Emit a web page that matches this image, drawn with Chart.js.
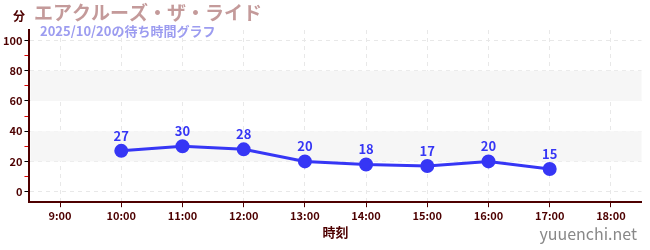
<!DOCTYPE html>
<html>
<head>
<meta charset="utf-8">
<script src="https://cdn.jsdelivr.net/npm/chart.js@4"></script>
<style>
  html, body { margin: 0; padding: 0; background: #fff; }
  #wrap { position: relative; width: 650px; height: 250px; }
</style>
</head>
<body>
<div id="wrap"><canvas id="grafico"></canvas></div>
<script>
// datos
const horas = ['9:00', '10:00', '11:00', '12:00', '13:00', '14:00', '15:00', '16:00', '17:00', '18:00'];
const esperas = [null, 27, 30, 28, 20, 18, 17, 20, 15, null];
const bandas = [[20, 40], [60, 80]];

const titulo = 'エアクルーズ・ザ・ライド';
const subtitulo = '2025/10/20の待ち時間グラフ';
const fuente = '"Noto Sans CJK JP", "Noto Sans", sans-serif';
const azul = '#3636f5';
const marron = '#4d0000';

// fondo en bandas + textos
const decoracion = {
    id: 'decoracion',
    beforeDatasetsDraw(chart) {
        const { ctx, chartArea, scales } = chart;
        ctx.save();
        ctx.fillStyle = '#f6f6f6';
        bandas.forEach(b => {
            const y1 = scales.y.getPixelForValue(b[1]);
            const y0 = scales.y.getPixelForValue(b[0]);
            ctx.fillRect(chartArea.left + 1, y1, chartArea.right - chartArea.left - 1, y0 - y1);
        });
        ctx.restore();
    },
    afterDatasetsDraw(chart) {
        const { ctx } = chart;
        const meta = chart.getDatasetMeta(0);
        ctx.save();
        ctx.fillStyle = azul;
        ctx.font = 'bold 13px ' + fuente;
        ctx.textAlign = 'center';
        ctx.textBaseline = 'alphabetic';
        meta.data.forEach((p, i) => {
            if (esperas[i] == null) return;
            ctx.fillText(String(esperas[i]), p.x, p.y - 10);
        });
        ctx.restore();
    },
    afterDraw(chart) {
        const { ctx } = chart;
        ctx.save();
        ctx.textBaseline = 'middle';
        ctx.textAlign = 'left';
        ctx.fillStyle = marron;
        ctx.font = 'bold 12px ' + fuente;
        ctx.fillText('分', 13, 16);
        ctx.fillStyle = '#c49a9a';
        ctx.font = 'bold 19px ' + fuente;
        ctx.fillText(titulo, 34, 13);
        ctx.fillStyle = '#9c9cf0';
        ctx.font = 'bold 13px ' + fuente;
        ctx.fillText(subtitulo, 40, 31);
        ctx.fillStyle = '#888';
        ctx.font = '16px ' + fuente;
        ctx.textAlign = 'right';
        ctx.fillText('yuuenchi.net', 637, 234);
        ctx.restore();
    }
};

new Chart(document.getElementById('grafico'), {
    type: 'line',
    data: {
        labels: horas,
        datasets: [{
            data: esperas,
            borderColor: azul,
            backgroundColor: azul,
            borderWidth: 3,
            pointRadius: 5.5,
            pointHoverRadius: 5.5,
            tension: 0,
            spanGaps: false
        }]
    },
    options: {
        responsive: true,
        maintainAspectRatio: false,
        animation: false,
        layout: { padding: { top: 30, right: 6, left: 1, bottom: 10 } },
        plugins: {
            legend: { display: false },
            tooltip: { enabled: false }
        },
        scales: {
            x: {
                offset: true,
                border: { display: true, color: marron, width: 2, dash: [4, 4] },
                grid: {
                    display: true,
                    color: '#e8e8e8',
                    tickColor: marron,
                    tickLength: 5,
                    offset: false
                },
                ticks: {
                    color: marron,
                    font: { family: fuente, size: 11, weight: 'bold' },
                    padding: 2,
                    maxRotation: 0
                },
                title: {
                    display: true,
                    text: '時刻',
                    color: marron,
                    font: { family: fuente, size: 13, weight: 'bold' },
                    padding: { top: 0, bottom: 0 }
                }
            },
            y: {
                min: -7,
                max: 107,
                border: { display: true, color: marron, width: 2, dash: [4, 4] },
                grid: {
                    color: ctx => (ctx.tick && ctx.tick.value % 20 === 0) ? '#e8e8e8' : 'rgba(0,0,0,0)',
                    tickColor: ctx => (ctx.tick && ctx.tick.value % 20 === 0) ? '#000' : '#e00000',
                    tickLength: 5
                },
                ticks: {
                    stepSize: 10,
                    includeBounds: false,
                    color: marron,
                    font: { family: fuente, size: 11, weight: 'bold' },
                    padding: 2,
                    callback: v => (v % 20 === 0 ? String(v) : '')
                }
            }
        }
    },
    plugins: [decoracion]
});
</script>
</body>
</html>
